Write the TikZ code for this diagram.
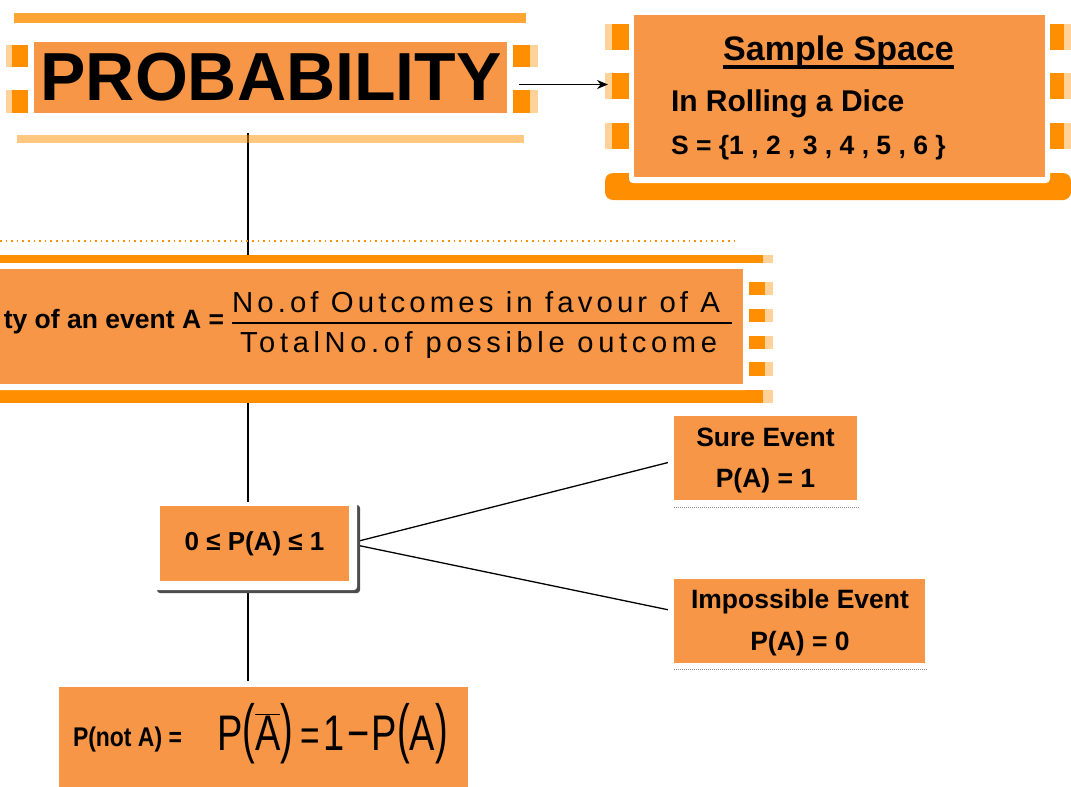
\documentclass[tikz,border=0pt]{standalone}
\usepackage{fontspec}
\setmainfont{Liberation Sans}
\usetikzlibrary{arrows.meta,calc}
\definecolor{boxfill}{HTML}{F79646}
\definecolor{frameor}{HTML}{FF8F00}
\newcommand\fsz[1]{\fontsize{#1}{#1}\selectfont}
\newcommand\thickul[1]{\setbox0\hbox{#1}\rlap{\rule[-8.5pt]{\wd0}{3.2pt}}\box0}
\newcommand\tallp[1]{\scalebox{1}[1.3]{#1}}
\pgfdeclarelayer{bg}
\pgfdeclarelayer{deco}
\pgfsetlayers{bg,deco,main}

\begin{document}
\begin{tikzpicture}[x=1pt,y=-1pt,
  card/.style={fill=boxfill, draw=none, inner sep=0pt, outer sep=0pt},
  txt/.style={inner sep=0pt, outer sep=0pt, text=black},
  band/.style={fill=frameor},
  fringe/.style={fill=frameor, fill opacity=0.4},
  link/.style={draw=black, line width=1.8pt},
  branch/.style={draw=black, line width=1.3pt},
  pointer/.style={draw=black, line width=1.4pt, -{Stealth[length=11pt,width=9pt]}},
  rule line/.style={draw=black, line width=1.4pt},
  seam/.style={draw=black!45, line width=0.8pt, dash pattern=on 1pt off 1pt},
  trail/.style={draw=frameor, line width=1.3pt, dash pattern=on 1.6pt off 4pt},
]
\useasboundingbox (0,0) rectangle (1071,787);
\coordinate (trunk) at (248,0);

% ---- title box
\node[card, minimum width=473pt, minimum height=71pt] (prob) at (270.5,77.5) {};
\node[txt, anchor=base, font=\bfseries\fsz{68}] at (271,100) {PROBABILITY};

% ---- sample space box
\node[card, minimum width=411pt, minimum height=162pt] (ss) at (839.5,96) {};
\node[txt, anchor=base, font=\bfseries\fsz{34}] at (838.5,60) {\thickul{Sample Space}};
\node[txt, anchor=base west, font=\bfseries\fsz{30}] at (671,111) {In Rolling a Dice};
\node[txt, anchor=base west, font=\bfseries\fsz{26.5}] at (671,154) {S = \{1 , 2 , 3 , 4 , 5 , 6 \}};

% ---- definition box
\node[card, minimum width=743pt, minimum height=115pt] (fm) at (371.5,326.5) {};
\node[txt, anchor=base east, font=\bfseries\fsz{26.5}] at (224,328) {ty of an event A =};
\node[txt, anchor=base west, font=\fsz{29}] (num) at (232,312)
  {\resizebox{488pt}{21pt}{\addfontfeature{LetterSpace=14}No.of Outcomes in favour of A}};
\node[txt, anchor=base west, font=\fsz{29}] (den) at (240,352)
  {\resizebox{477pt}{21pt}{\addfontfeature{LetterSpace=16}TotalNo.of possible outcome}};
\draw[rule line] (232,323) -- (732,323);

% ---- range box
\node[card, minimum width=189pt, minimum height=75pt, font=\bfseries\fsz{26}] (pr) at (254.5,543.5) {0 ≤ P(A) ≤ 1};

% ---- special events
\node[card, minimum width=183pt, minimum height=84pt] (sure) at (765.5,458) {};
\node[txt, anchor=base, font=\bfseries\fsz{26.5}] at (765.5,446) {Sure Event};
\node[txt, anchor=base, font=\bfseries\fsz{26.5}] at (765.5,487) {P(A) = 1};
\node[card, minimum width=251pt, minimum height=84pt] (imp) at (799.5,621) {};
\node[txt, anchor=base, font=\bfseries\fsz{26.5}] at (800,608) {Impossible Event};
\node[txt, anchor=base, font=\bfseries\fsz{26.5}] at (800,650) {P(A) = 0};

% ---- complement box
\node[card, minimum width=409pt, minimum height=100pt] (nota) at (263.5,737) {};
\node[txt, anchor=base west, font=\bfseries\fsz{27}] at (73,746) {\scalebox{0.85}[1]{P(not A) =}};
\node[txt, anchor=base west, font=\fsz{50}] at (217,750)
  {\scalebox{0.76}[1]{P\tallp{(}$\overline{\mbox{A}}$\tallp{)}\hspace{10pt}{\fsz{44}=}\hspace{5pt}1\hspace{3pt}−\hspace{3pt}P\tallp{(}A\tallp{)}}};

% ---- frames and halos
\begin{pgfonlayer}{deco}
  % title frame
  \fill[band, fill opacity=0.8] (14,13) rectangle (526,23);
  \fill[white] (28,23) rectangle (513,133);
  \fill[band, fill opacity=0.5] (17,135) rectangle (524,143);
  \foreach \ya/\yb in {45/67, 90/113} {
    \fill[band] (12,\ya) rectangle (28,\yb);
    \fill[fringe] (6,\ya) rectangle (12,\yb);
    \fill[band] (513,\ya) rectangle (530,\yb);
    \fill[fringe] (530,\ya) rectangle (538,\yb);
  }
  % sample space frame
  \fill[band, rounded corners=8pt] (605,173) rectangle (1071,200);
  \fill[white, rounded corners=4pt] (629,10) rectangle (1050,183);
  \foreach \ya/\yb in {24/50, 73/99, 123/149} {
    \fill[band] (612,\ya) rectangle (629,\yb);
    \fill[fringe] (605,\ya) rectangle (612,\yb);
    \fill[band] (1050,\ya) rectangle (1064,\yb);
    \fill[fringe] (1064,\ya) rectangle (1071,\yb);
  }
  % definition frame
  \draw[trail] (0,241) -- (738,241);
  \fill[band] (0,255) rectangle (763,263);
  \fill[fringe] (763,255) rectangle (773,263);
  \fill[band] (0,390) rectangle (763,403);
  \fill[fringe] (763,390) rectangle (773,403);
  \fill[white, rounded corners=3pt] (-5,263) rectangle (749,390);
  \foreach \ya/\yb in {282/295, 309/322, 336/349, 362/376} {
    \fill[band] (749,\ya) rectangle (765,\yb);
    \fill[fringe] (765,\ya) rectangle (773,\yb);
  }
  % range box border and shadow
  \fill[black!70, rounded corners=3pt] (157,505) rectangle (360,593);
  \fill[white, rounded corners=3pt] (154,502) rectangle (357,590);
  % event halos
  \fill[white] (668,410) rectangle (863,505);
  \draw[seam] (674,507) -- (860,507);
  \fill[white] (668,573) rectangle (931,667);
  \draw[seam] (674,669) -- (928,669);
  % complement halo
  \fill[white] (53,681) rectangle (474,787);
\end{pgfonlayer}

% ---- connectors
\begin{pgfonlayer}{bg}
  \draw[link] (prob.south -| trunk) -- (fm.north -| trunk);
  \draw[link] (fm.south -| trunk) -- (pr.north -| trunk);
  \draw[link] (pr.south -| trunk) -- (nota.north -| trunk);
  \draw[branch] (pr.east) -- ([yshift=-3pt]sure.west);
  \draw[branch] (pr.east) -- ([yshift=10pt]imp.west);
\end{pgfonlayer}
\draw[pointer] ([shift={(12pt,-7pt)}]prob.east) -- ([shift={(-26pt,11.5pt)}]ss.west);
\end{tikzpicture}
\end{document}
